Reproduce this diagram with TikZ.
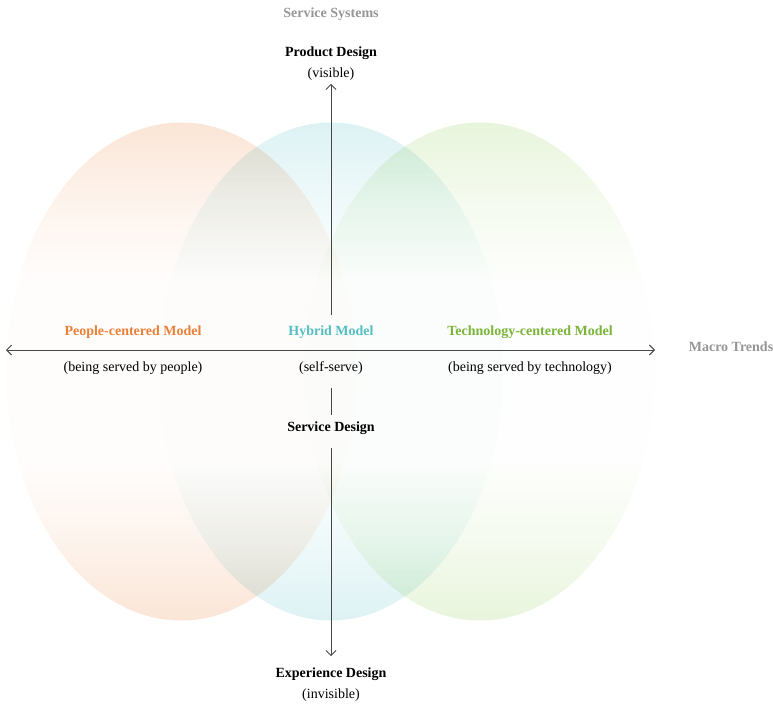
\documentclass[tikz,border=0pt]{standalone}
\usepackage{fontspec}
\setmainfont{Liberation Serif}
\usepackage{tikz}
\usetikzlibrary{arrows.meta}

\definecolor{peopletint}{RGB}{251,229,214}
\definecolor{hybridtint}{RGB}{221,242,244}
\definecolor{techtint}{RGB}{232,245,220}
\definecolor{peoplecol}{RGB}{234,128,56}
\definecolor{hybridcol}{RGB}{84,190,192}
\definecolor{techcol}{RGB}{122,180,56}
\definecolor{sysgray}{RGB}{150,150,150}
\definecolor{axisgray}{RGB}{70,70,70}

\pgfdeclareverticalshading{peopleshade}{100bp}{color(0bp)=(peopletint); color(25bp)=(peopletint); color(33bp)=(peopletint!45); color(41bp)=(peopletint!7); color(59bp)=(peopletint!7); color(67bp)=(peopletint!45); color(75bp)=(peopletint); color(100bp)=(peopletint)}
\pgfdeclareverticalshading{hybridshade}{100bp}{color(0bp)=(hybridtint); color(25bp)=(hybridtint); color(33bp)=(hybridtint!45); color(41bp)=(hybridtint!7); color(59bp)=(hybridtint!7); color(67bp)=(hybridtint!45); color(75bp)=(hybridtint); color(100bp)=(hybridtint)}
\pgfdeclareverticalshading{techshade}{100bp}{color(0bp)=(techtint); color(25bp)=(techtint); color(33bp)=(techtint!45); color(41bp)=(techtint!7); color(59bp)=(techtint!7); color(67bp)=(techtint!45); color(75bp)=(techtint); color(100bp)=(techtint)}

\begin{document}
\begin{tikzpicture}[x=1pt, y=-1pt,
    every node/.style={font=\fontsize{14}{16}\selectfont},
    head/.style={font=\bfseries\fontsize{14}{16}\selectfont},
    axis/.style={draw=axisgray, line width=0.9pt},
    tip/.style={-{Straight Barb[length=5pt,width=10pt]}}]
    \useasboundingbox (0,0) rectangle (773,705);

    % the three models
    \shade[shading=peopleshade, blend mode=multiply] (181,371.5) ellipse [x radius=175pt, y radius=249pt];
    \shade[shading=hybridshade, blend mode=multiply] (331,371.5) ellipse [x radius=172pt, y radius=249pt];
    \shade[shading=techshade, blend mode=multiply] (480,371.5) ellipse [x radius=175pt, y radius=249pt];

    \node[head, text=sysgray] (sys) at (331,14) {Service Systems};
    \node[head] (pd) at (331,53) {Product Design};
    \node (pdsub) at (331,74) {(visible)};

    \node[head, text=peoplecol] (people) at (133,332) {People-centered Model};
    \node[head, text=hybridcol] (hybrid) at (331,332) {Hybrid Model};
    \node[head, text=techcol] (tech) at (530,332) {Technology-centered Model};
    \node (peoplesub) at (133,368) {(being served by people)};
    \node (hybridsub) at (331,368) {(self-serve)};
    \node (techsub) at (530,368) {(being served by technology)};
    \node[head, text=sysgray] (trends) at (731,347) {Macro Trends};

    \node[head] (sd) at (331,428) {Service Design};
    \node[head] (ed) at (331,674) {Experience Design};
    \node (edsub) at (331,695) {(invisible)};

    \coordinate (west) at (6,350);
    \coordinate (east) at (655,350);

    \draw[axis, {Straight Barb[length=5pt,width=10pt]}-{Straight Barb[length=5pt,width=10pt]}] (west) -- (east);
    \draw[axis, tip, shorten <=7pt] (hybrid.north) -- (pdsub.south);
    \draw[axis, shorten <=10pt, shorten >=3pt] (hybridsub.south) -- (sd.north);
    \draw[axis, tip, shorten <=10pt, shorten >=8pt] (sd.south) -- (ed.north);
\end{tikzpicture}
\end{document}
